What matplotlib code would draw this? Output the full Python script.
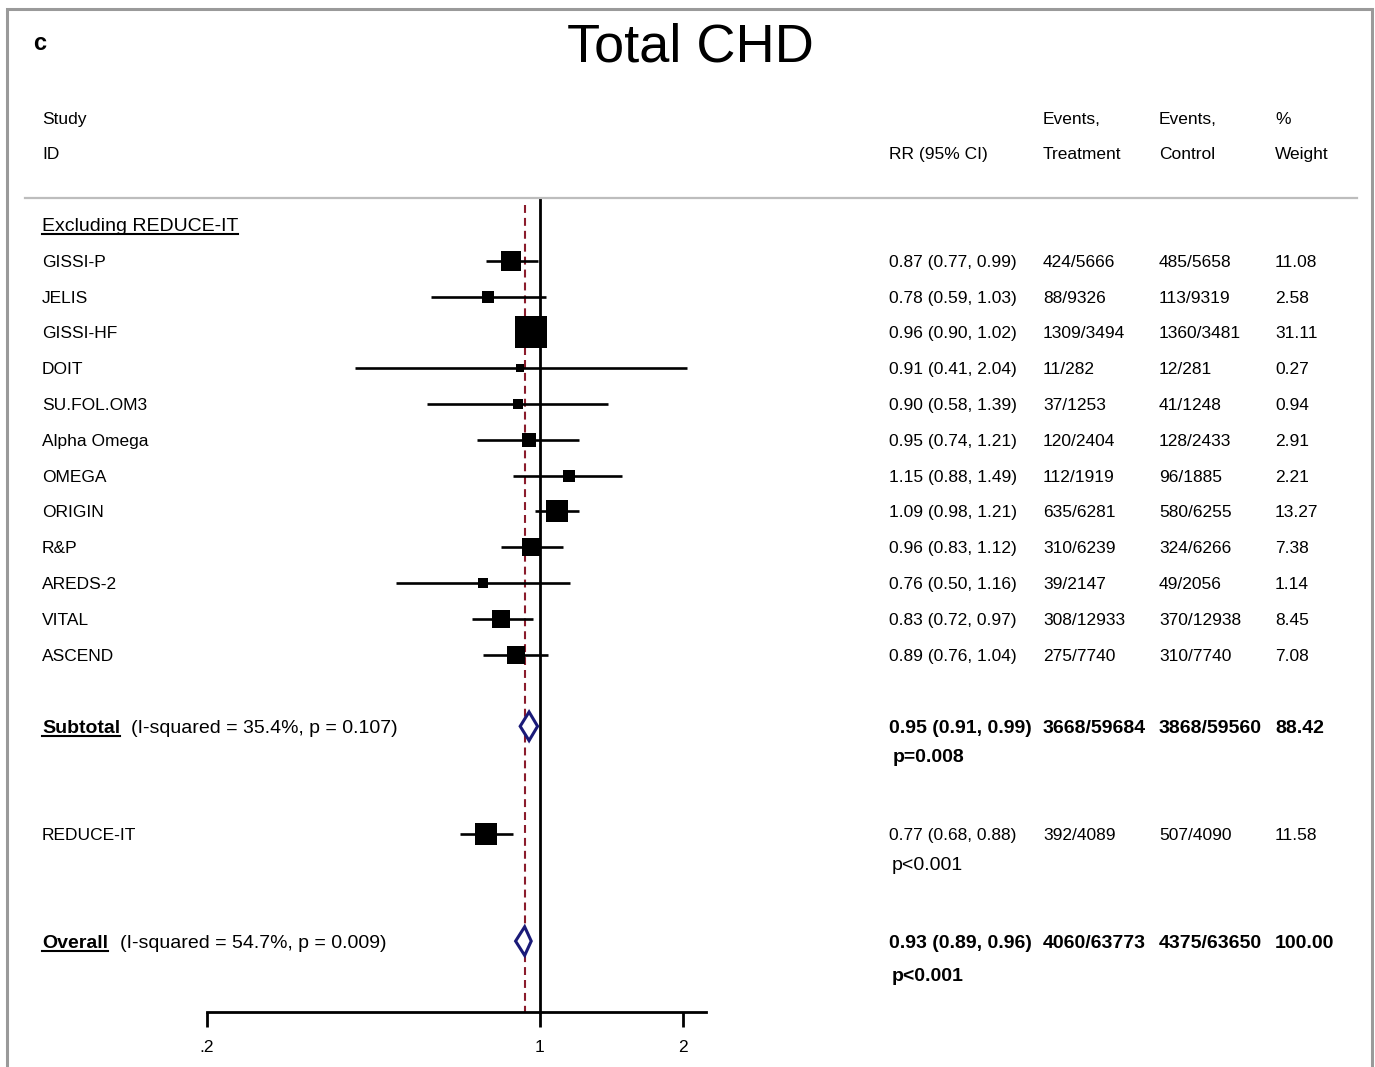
import numpy as np
import matplotlib.pyplot as plt
from matplotlib.patches import Polygon, Rectangle
from matplotlib.lines import Line2D
from matplotlib.transforms import blended_transform_factory

plt.rcParams['font.family'] = ['Liberation Sans', 'DejaVu Sans']

# Data
studies = ["GISSI-P", "JELIS", "GISSI-HF", "DOIT", "SU.FOL.OM3", "Alpha Omega",
           "OMEGA", "ORIGIN", "R&P", "AREDS-2", "VITAL", "ASCEND"]
rr = [0.87, 0.78, 0.96, 0.91, 0.90, 0.95, 1.15, 1.09, 0.96, 0.76, 0.83, 0.89]
lo = [0.77, 0.59, 0.90, 0.41, 0.58, 0.74, 0.88, 0.98, 0.83, 0.50, 0.72, 0.76]
hi = [0.99, 1.03, 1.02, 2.04, 1.39, 1.21, 1.49, 1.21, 1.12, 1.16, 0.97, 1.04]
ev_trt = ["424/5666", "88/9326", "1309/3494", "11/282", "37/1253", "120/2404",
          "112/1919", "635/6281", "310/6239", "39/2147", "308/12933", "275/7740"]
ev_ctl = ["485/5658", "113/9319", "1360/3481", "12/281", "41/1248", "128/2433",
          "96/1885", "580/6255", "324/6266", "49/2056", "370/12938", "310/7740"]
weight = [11.08, 2.58, 31.11, 0.27, 0.94, 2.91, 2.21, 13.27, 7.38, 1.14, 8.45, 7.08]

# Subtotal (excluding REDUCE-IT)
sub_rr, sub_lo, sub_hi = 0.95, 0.91, 0.99
sub_trt, sub_ctl, sub_w = "3668/59684", "3868/59560", "88.42"
sub_het = "(I-squared = 35.4%, p = 0.107)"
sub_p = "p=0.008"

# REDUCE-IT
red_rr, red_lo, red_hi = 0.77, 0.68, 0.88
red_trt, red_ctl, red_w = "392/4089", "507/4090", 11.58
red_p = "p<0.001"

# Overall
ov_rr, ov_lo, ov_hi = 0.93, 0.89, 0.96
ov_trt, ov_ctl, ov_w = "4060/63773", "4375/63650", "100.00"
ov_het = "(I-squared = 54.7%, p = 0.009)"
ov_p = "p<0.001"

xticks = [0.2, 1, 2]
xticklabels = [".2", "1", "2"]

W, H = 1375, 1067
fig = plt.figure(figsize=(W / 100, H / 100), dpi=100)
fig.patch.set_facecolor("white")

# forest axes (pixel box 207..706 x 198..1012)
ax = fig.add_axes([207 / W, (H - 1012) / H, 499 / W, (1012 - 198) / H])
ax.set_xscale("log")
ax.set_xlim(0.2, 2.236)
ax.set_ylim(21.98, -0.754)
for s in ["top", "left", "right"]:
    ax.spines[s].set_visible(False)
ax.spines["bottom"].set_linewidth(2)
ax.set_yticks([])
ax.set_xticks(xticks)
ax.set_xticklabels(xticklabels, fontsize=12.5)
ax.xaxis.set_minor_locator(plt.NullLocator())
ax.tick_params(axis="x", direction="out", length=11, width=2, pad=9)
ax.patch.set_alpha(0)

rows = np.arange(1, len(studies) + 1)
sub_row, red_row, ov_row = 14, 17, 20

# null line and overall estimate line
ax.plot([1, 1], [-0.754, 21.98], color="black", lw=2, clip_on=False)
ax.plot([ov_rr, ov_rr], [-0.55, 21.98], color="#8b1c2c", lw=1.5,
        linestyle=(0, (3.8, 2.4)), clip_on=False)

# CIs and boxes
all_rows = list(rows) + [red_row]
all_rr = rr + [red_rr]
all_lo = lo + [red_lo]
all_hi = hi + [red_hi]
all_w = weight + [red_w]
ax.hlines(all_rows, all_lo, all_hi, color="black", lw=1.9, zorder=3)
for r, est, w in zip(all_rows, all_rr, all_w):
    side = 4.74 * np.sqrt(w) + 5
    ax.plot(est, r, marker="s", color="black", markersize=side * 0.72,
            markeredgewidth=0, zorder=4)

# diamonds
for r, est, l, h in [(sub_row, sub_rr, sub_lo, sub_hi), (ov_row, ov_rr, ov_lo, ov_hi)]:
    d = 0.4
    poly = Polygon([(l, r), (est, r - d), (h, r), (est, r + d)], closed=True,
                   facecolor="white", edgecolor="#1a1a78", lw=2.2, zorder=5)
    ax.add_patch(poly)

tr = blended_transform_factory(fig.transFigure, ax.transData)


def txt(xpx, row, s, size=12.5, weight="normal", **kw):
    return fig.text(xpx / W, row, s, transform=tr, fontsize=size, fontweight=weight,
                    va="center_baseline", ha="left", **kw)


# headers
txt(42, -3, "Study")
txt(42, -2, "ID")
txt(889, -2, "RR (95% CI)")
txt(1043, -3, "Events,")
txt(1043, -2, "Treatment")
txt(1159, -3, "Events,")
txt(1159, -2, "Control")
txt(1275, -3, "%")
txt(1275, -2, "Weight")

underline = []
underline.append(txt(42, 0, "Excluding REDUCE-IT", size=14))

for r, name, est, l, h, et, ec, w in zip(rows, studies, rr, lo, hi, ev_trt, ev_ctl, weight):
    txt(42, r, name)
    txt(889, r, f"{est:.2f} ({l:.2f}, {h:.2f})")
    txt(1043, r, et)
    txt(1159, r, ec)
    txt(1275, r, f"{w:.2f}")

# subtotal
underline.append(txt(42, sub_row, "Subtotal", size=14, weight="bold"))
txt(131, sub_row, sub_het, size=14)
txt(889, sub_row, f"{sub_rr:.2f} ({sub_lo:.2f}, {sub_hi:.2f})", size=14, weight="bold")
txt(1043, sub_row, sub_trt, size=14, weight="bold")
txt(1159, sub_row, sub_ctl, size=14, weight="bold")
txt(1275, sub_row, sub_w, size=14, weight="bold")
txt(893, sub_row + 0.83, sub_p, size=14, weight="bold")

# REDUCE-IT
txt(42, red_row, "REDUCE-IT")
txt(889, red_row, f"{red_rr:.2f} ({red_lo:.2f}, {red_hi:.2f})")
txt(1043, red_row, red_trt)
txt(1159, red_row, red_ctl)
txt(1275, red_row, f"{red_w:.2f}")
txt(892, red_row + 0.83, red_p, size=14)

# overall
underline.append(txt(42, ov_row, "Overall", size=14, weight="bold"))
txt(120, ov_row, ov_het, size=14)
txt(889, ov_row, f"{ov_rr:.2f} ({ov_lo:.2f}, {ov_hi:.2f})", size=14, weight="bold")
txt(1043, ov_row, ov_trt, size=14, weight="bold")
txt(1159, ov_row, ov_ctl, size=14, weight="bold")
txt(1275, ov_row, ov_w, size=14, weight="bold")
txt(892, ov_row + 0.92, ov_p, size=14, weight="bold")

# title and panel letter
fig.text(690 / W, 1 - 47 / H, "Total CHD", fontsize=39, ha="center", va="center")
fig.text(33 / W, 1 - 44 / H, "c", fontsize=17, fontweight="bold", ha="left", va="center")

# header separator and frame
fig.add_artist(Line2D([25 / W, 1357 / W], [1 - 198 / H, 1 - 198 / H],
                      color="#bdbdbd", lw=1.6, transform=fig.transFigure))
fig.add_artist(Rectangle((7 / W, -0.05), (1372 - 7) / W, 1.05 - 9 / H,
                         transform=fig.transFigure, fill=False,
                         edgecolor="#9a9a9a", lw=2.2))

# underlines
fig.canvas.draw()
for t in underline:
    bb = t.get_window_extent()
    y = bb.y0 + 1
    fig.add_artist(Line2D([bb.x0 / W, bb.x1 / W], [y / H, y / H], color="black",
                          lw=1.5, transform=fig.transFigure))

fig.savefig("out.png", dpi=100)
